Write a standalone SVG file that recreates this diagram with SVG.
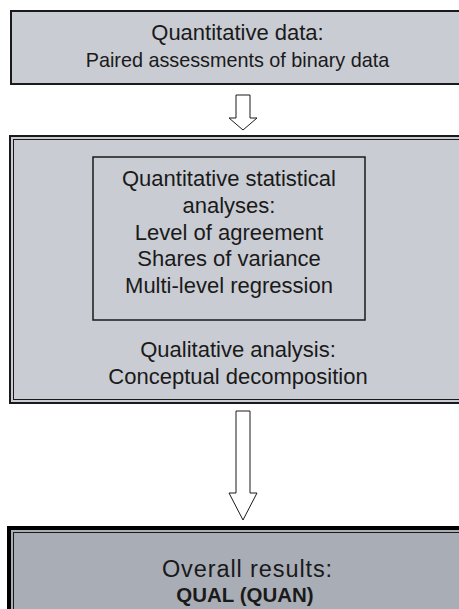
<svg xmlns="http://www.w3.org/2000/svg" width="459" height="609" viewBox="0 0 459 609">
<style>
text{font-family:"Liberation Sans",Arial,sans-serif;font-size:22px;fill:#1a1a1a;text-anchor:middle}
.b{font-weight:bold}
.box{fill:#c9ccd3;stroke:#1a1a1a}
.arrow{fill:#fff;stroke:#1a1a1a;stroke-width:1}
</style>
<rect width="459" height="609" fill="#fff"/>
<g id="node-data">
<rect class="box" x="11" y="11" width="460" height="73" stroke-width="2"/>
<text x="237.5" y="40">Quantitative data:</text>
<text x="237.5" y="66.5" style="font-size:19.8px">Paired assessments of binary data</text>
</g>
<g id="node-analysis">
<rect class="box" x="10" y="136" width="460" height="267" stroke-width="2"/>
<rect x="13.5" y="139.5" width="460" height="260" fill="none" stroke="#1a1a1a" stroke-width="1"/>
<text x="238" y="357">Qualitative analysis:</text>
<text x="238" y="383.5">Conceptual decomposition</text>
</g>
<g id="node-quant">
<rect x="93" y="157" width="272" height="163" fill="none" stroke="#1a1a1a" stroke-width="1.5"/>
<text x="229" y="186">Quantitative statistical</text>
<text x="229" y="212.5">analyses:</text>
<text x="229" y="239.5">Level of agreement</text>
<text x="229" y="266">Shares of variance</text>
<text x="229" y="292.5">Multi-level regression</text>
</g>
<g id="node-results">
<rect x="9" y="528" width="462" height="90" fill="#a9adb6" stroke="#000" stroke-width="4"/>
<rect x="13.5" y="532.5" width="460" height="90" fill="none" stroke="#1a1a1a" stroke-width="1"/>
<text x="247.5" y="577" style="font-size:23.5px;letter-spacing:0.9px">Overall results:</text>
<text class="b" x="245" y="602" style="font-size:20.5px">QUAL (QUAN)</text>
</g>
<g id="connectors">
<polygon class="arrow" points="236,95 250,95 250,118 257,118 243,130 229,118 236,118"/>
<polygon class="arrow" points="236,411 250,411 250,493 257,493 243,520 229,493 236,493"/>
</g>
</svg>
